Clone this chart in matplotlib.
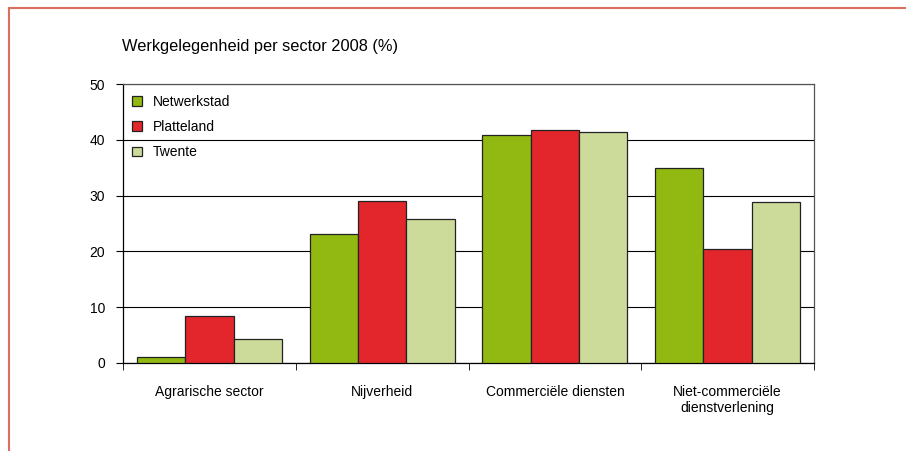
import matplotlib.pyplot as plt
import numpy as np
from matplotlib.lines import Line2D
from matplotlib.patches import Patch

categories = ['Agrarische sector', 'Nijverheid', 'Commerciële diensten',
              'Niet-commerciële\ndienstverlening']
series = ['Netwerkstad', 'Platteland', 'Twente']
netwerkstad = [1.1, 23.1, 40.9, 34.9]
platteland = [8.4, 29.0, 41.8, 20.4]
twente = [4.3, 25.8, 41.4, 28.9]
colors = ['#92b812', '#e3262c', '#cddb9a']

plt.rcParams['font.family'] = ['Liberation Sans', 'DejaVu Sans']

fig = plt.figure(figsize=(9.06, 4.51), dpi=100)
ax = fig.add_axes([123 / 906, 1 - 363 / 451, 691 / 906, 279 / 451])

x = np.arange(len(categories))
w = 0.28
for i, (vals, c) in enumerate(zip([netwerkstad, platteland, twente], colors)):
    ax.bar(x + (i - 1) * w, vals, w, color=c, edgecolor='#222222',
           linewidth=0.9, zorder=3, label=series[i])

ax.set_xlim(-0.5, 3.5)
ax.set_ylim(0, 50)
ax.set_yticks([0, 10, 20, 30, 40, 50])
ax.yaxis.grid(True, color='black', linewidth=0.8, zorder=0)
ax.set_xticks(x)
ax.set_xticklabels(categories, fontsize=10)
ax.tick_params(axis='x', length=0, pad=16)
ax.set_xticks(np.arange(-0.5, 4.0, 1.0), minor=True)
ax.tick_params(axis='x', which='minor', length=5, direction='out')
ax.tick_params(axis='y', length=5, labelsize=10, pad=8)
for s in ax.spines.values():
    s.set_linewidth(0.9)
ax.spines['top'].set_color('#555555')
ax.spines['right'].set_color('#555555')

handles = [Patch(facecolor=c, edgecolor='#222222', linewidth=0.9) for c in colors]
ax.legend(handles, series, loc='upper left', frameon=False, fontsize=10,
          handlelength=0.7, handleheight=0.7, labelspacing=0.8,
          handletextpad=0.8, bbox_to_anchor=(-0.005, 1.005))

fig.text(122 / 906, 1 - 46 / 451, 'Werkgelegenheid per sector 2008 (%)',
         fontsize=11.8, va='center', ha='left')

# red frame lines
fig.add_artist(Line2D([9 / 906, 1], [1 - 8 / 451, 1 - 8 / 451],
                      color='#d9705f', linewidth=1.5, transform=fig.transFigure))
fig.add_artist(Line2D([9 / 906, 9 / 906], [0, 1 - 8 / 451],
                      color='#d9705f', linewidth=1.5, transform=fig.transFigure))

fig.savefig('out.png', dpi=100)
